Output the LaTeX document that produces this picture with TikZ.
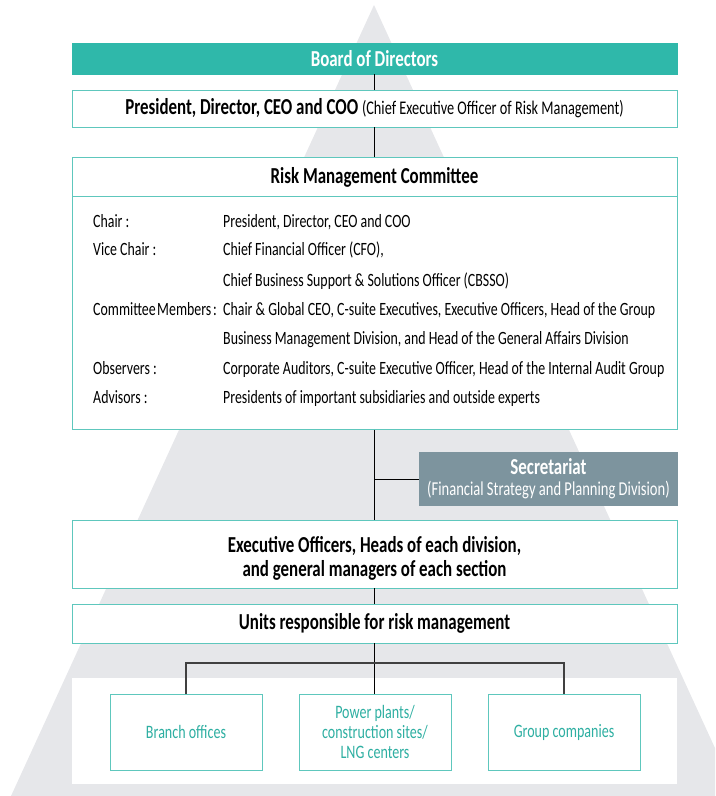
\documentclass[tikz,border=0pt]{standalone}
\usepackage{fontspec}
\setmainfont{Carlito}[FakeStretch=0.74]
\definecolor{teal}{HTML}{2FB8AA}
\definecolor{tealline}{HTML}{5EC7BD}
\definecolor{tealtext}{HTML}{2EAFA2}
\definecolor{secgrey}{HTML}{7D949E}
\definecolor{pyramid}{HTML}{E6E7EA}
\tikzset{
  wide/.style={draw=tealline,line width=0.7pt,fill=white,minimum width=18.15cm,inner sep=0pt,font=\bfseries\fontsize{19.5}{20.5}\selectfont},
  unitbox/.style={draw=tealline,line width=0.7pt,fill=white,minimum width=4.56cm,minimum height=2.28cm,inner sep=0pt,align=center,text=tealtext,font=\fontsize{16.2}{17.4}\selectfont},
  row/.style={anchor=base west,inner sep=0pt,font=\fontsize{16}{18}\selectfont},
}
\begin{document}
\begin{tikzpicture}[x=0.03cm,y=-0.03cm]

  \useasboundingbox (0,0) rectangle (715,796);
  \begin{scope}
    \clip (0,0) rectangle (715,796);
    \fill[pyramid] (374,5) -- (737,796) -- (11,796) -- cycle;
  \end{scope}
  \fill[white] (72,678) rectangle (677,784);

  \begin{scope}[every node/.style={wide}]
    \node[fill=teal,draw=teal,text=white,minimum height=0.93cm] (board) at (374.5,58.5) {Board of Directors};
    \node[minimum height=1.11cm] (pres) at (374.5,108.5) {President, Director, CEO and COO \mdseries\fontsize{16.5}{18}\selectfont(Chief Executive Officer of Risk Management)};
    \node[minimum height=8.16cm] (rmc) at (374.5,293.5) {};
    \node[minimum height=2.04cm,align=center] (exec) at (374.5,554) {\rule{0pt}{21pt}Executive Officers, Heads of each division,\\and general managers of each section};
    \node[minimum height=1.17cm] (units) at (374.5,623.5) {Units responsible for risk management};
  \end{scope}

  % committee table
  \draw[tealline,line width=0.7pt] (72,196) -- (677,196);
  \node[font=\bfseries\fontsize{19.5}{20.5}\selectfont] (rmctitle) at (374.5,177) {Risk Management Committee};
  \begin{scope}[every node/.style={row}]
    \node (l1) at (93,227) {Chair :};
    \node (l2) at (93,256) {Vice Chair :};
    \node (l3) at (93,315) {Committee\hspace{0.08em}Members\hspace{0.1em}:};
    \node (l4) at (93,374) {Observers :};
    \node (l5) at (93,403) {Advisors :};
    \node (v1) at (223,227) {President, Director, CEO and COO};
    \node (v2) at (223,256) {Chief Financial Officer (CFO),};
    \node (v3) at (223,286) {Chief Business Support \& Solutions Officer (CBSSO)};
    \node (v4) at (223,315) {Chair \& Global CEO, C-suite Executives, Executive Officers, Head of the Group};
    \node (v5) at (223,344) {Business Management Division, and Head of the General Affairs Division};
    \node (v6) at (223,374) {Corporate Auditors, C-suite Executive Officer, Head of the Internal Audit Group};
    \node (v7) at (223,403) {Presidents of important subsidiaries and outside experts};
  \end{scope}

  \node[fill=secgrey,text=white,minimum width=7.77cm,minimum height=1.62cm,inner sep=0pt,align=center,font=\fontsize{16.8}{17.9}\selectfont] (sec) at (548.5,479) {{\bfseries\fontsize{19.5}{20.5}\selectfont Secretariat}\\(Financial Strategy and Planning Division)};

  \begin{scope}[every node/.style={unitbox}]
    \node (branch) at (186,732) {Branch offices};
    \node (plants) at (375,732) {Power plants/\\construction sites/\\LNG centers};
    \node (group)  at (564,732) {Group companies};
  \end{scope}

  \coordinate (secjoin) at (374,479);
  \coordinate (bar) at (374,663);

  \begin{scope}[line width=0.6pt]
    \draw (board) -- (pres);
    \draw (pres) -- (rmc);
    \draw (rmc) -- (exec);
    \draw (secjoin) -- (sec);
    \draw (exec) -- (units);
    \draw (units.south -| bar) -- (plants.north -| bar);
    \draw[line width=0.9pt,black!75] (branch.north) |- (bar) -| (group.north);
  \end{scope}

\end{tikzpicture}
\end{document}
